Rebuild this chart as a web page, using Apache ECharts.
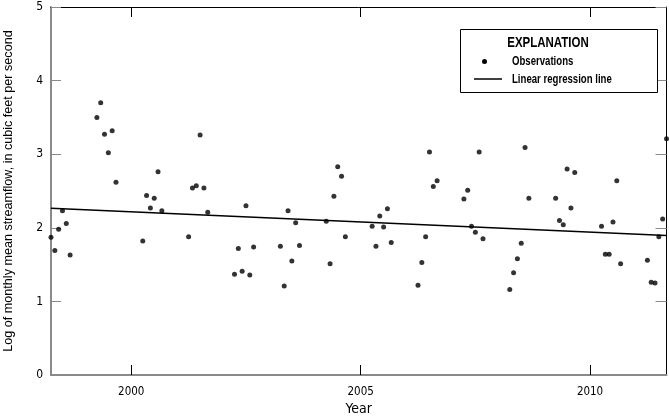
<!DOCTYPE html>
<html>
<head>
<meta charset="utf-8">
<script src="https://cdn.jsdelivr.net/npm/echarts@6/dist/echarts.min.js"></script>
<style>
html,body{margin:0;padding:0;background:#fff;}
#chart{width:669px;height:418px;}
</style>
</head>
<body>
<div id="chart"></div>
<script>
// Observation months (April–September of each year)
const obsMonths = [
  '1998-04','1998-05','1998-06','1998-07','1998-08','1998-09',
  '1999-04','1999-05','1999-06','1999-07','1999-08','1999-09',
  '2000-04','2000-05','2000-06','2000-07','2000-08','2000-09',
  '2001-04','2001-05','2001-06','2001-07','2001-08','2001-09',
  '2002-04','2002-05','2002-06','2002-07','2002-08','2002-09',
  '2003-04','2003-05','2003-06','2003-07','2003-08','2003-09',
  '2004-04','2004-05','2004-06','2004-07','2004-08','2004-09',
  '2005-04','2005-05','2005-06','2005-07','2005-08','2005-09',
  '2006-04','2006-05','2006-06','2006-07','2006-08','2006-09',
  '2007-04','2007-05','2007-06','2007-07','2007-08','2007-09',
  '2008-04','2008-05','2008-06','2008-07','2008-08','2008-09',
  '2009-04','2009-05','2009-06','2009-07','2009-08','2009-09',
  '2010-04','2010-05','2010-06','2010-07','2010-08','2010-09',
  '2011-04','2011-05','2011-06','2011-07','2011-08','2011-09'
];
// Log of monthly mean streamflow
const logFlow = [
  1.87, 1.69, 1.98, 2.23, 2.06, 1.63,
  3.50, 3.70, 3.27, 3.02, 3.32, 2.62,
  1.82, 2.44, 2.27, 2.40, 2.76, 2.23,
  1.88, 2.54, 2.57, 3.26, 2.54, 2.21,
  1.37, 1.72, 1.41, 2.30, 1.36, 1.74,
  1.75, 1.21, 2.23, 1.55, 2.07, 1.76,
  2.09, 1.51, 2.43, 2.83, 2.70, 1.88,
  2.02, 1.75, 2.16, 2.01, 2.26, 1.80,
  1.22, 1.53, 1.88, 3.03, 2.56, 2.64,
  2.39, 2.51, 2.02, 1.94, 3.03, 1.85,
  1.16, 1.39, 1.58, 1.79, 3.09, 2.40,
  2.40, 2.10, 2.04, 2.80, 2.27, 2.75,
  2.02, 1.64, 1.64, 2.08, 2.64, 1.51,
  1.56, 1.26, 1.25, 1.88, 2.12, 3.21
];
// Linear regression line end points
const regMonths = ['1998-04', '2011-09'];
const regValues = [2.267, 1.895];
// Axis ticks
const xTicks = [2000, 2005, 2010];
const yTicks = [0, 1, 2, 3, 4, 5];

function decYear(s) {
  const p = s.split('-');
  return Number(p[0]) + (Number(p[1]) - 1) / 12;
}
const obsData = obsMonths.map((m, i) => [decYear(m), logFlow[i]]);
const regData = regMonths.map((m, i) => [decYear(m), regValues[i]]);
const xMin = decYear(obsMonths[0]);
const xMax = decYear(obsMonths[obsMonths.length - 1]);

const NARROW = '"DejaVu Sans Condensed", "Liberation Sans Narrow", sans-serif';
const GRAY = '#8a8a8a';

const chart = echarts.init(document.getElementById('chart'), null, {renderer: 'canvas'});
chart.setOption({
  animation: false,
  backgroundColor: '#ffffff',
  grid: {left: 51, right: 2.5, top: 7, bottom: 43, containLabel: false, outerBoundsMode: 'none'},
  xAxis: [{
    type: 'value', position: 'bottom', min: xMin, max: xMax,
    axisLine: {show: true, onZero: false, lineStyle: {color: GRAY, width: 2}},
    axisTick: {show: true, inside: true, length: 10, customValues: xTicks, lineStyle: {color: '#000', width: 1}},
    axisLabel: {show: true, customValues: xTicks, color: '#000', fontFamily: NARROW, fontSize: 11.5, margin: 11,
      formatter: v => String(Math.round(v))},
    splitLine: {show: false},
    name: 'Year', nameLocation: 'middle', nameGap: 27, nameMoveOverlap: false,
    nameTextStyle: {color: '#000', fontFamily: NARROW, fontSize: 14}
  }, {
    type: 'value', position: 'top', min: xMin, max: xMax,
    axisLine: {show: true, onZero: false, lineStyle: {color: '#000', width: 1}},
    axisTick: {show: true, inside: true, length: 10, customValues: xTicks, lineStyle: {color: '#000', width: 1}},
    axisLabel: {show: false},
    splitLine: {show: false}
  }],
  yAxis: [{
    type: 'value', position: 'left', min: 0, max: 5, interval: 1,
    axisLine: {show: true, onZero: false, lineStyle: {color: GRAY, width: 2}},
    axisTick: {show: true, inside: true, length: 10, lineStyle: {color: GRAY, width: 1}},
    axisLabel: {show: true, color: '#000', fontFamily: NARROW, fontSize: 12, margin: 8,
      formatter: v => yTicks.indexOf(v) >= 0 ? String(v) : ''},
    splitLine: {show: false},
    name: 'Log of monthly mean streamflow, in cubic feet per second',
    nameLocation: 'middle', nameGap: 36, nameRotate: 90, nameMoveOverlap: false,
    nameTextStyle: {color: '#000', fontFamily: '"Liberation Sans", Arial, sans-serif', fontSize: 12.6}
  }, {
    type: 'value', position: 'right', min: 0, max: 5, interval: 1,
    axisLine: {show: true, onZero: false, lineStyle: {color: '#000', width: 1}},
    axisTick: {show: true, inside: true, length: 11, lineStyle: {color: GRAY, width: 1}},
    axisLabel: {show: false},
    splitLine: {show: false}
  }],
  series: [{
    name: 'Observations', type: 'scatter', xAxisIndex: 0, yAxisIndex: 0,
    data: obsData, symbol: 'circle', symbolSize: 5,
    itemStyle: {color: '#000'}, clip: true, z: 3
  }, {
    name: 'Linear regression line', type: 'line', xAxisIndex: 0, yAxisIndex: 0,
    data: regData, showSymbol: false, symbol: 'none',
    lineStyle: {color: '#000', width: 1.5}, z: 2
  }],
  graphic: [
    {type: 'rect', shape: {x: 460.5, y: 29.5, width: 197, height: 63},
      style: {fill: '#fff', stroke: '#000', lineWidth: 1}, z: 10},
    {type: 'text', x: 548, y: 43, z: 11, scaleX: 0.82,
      style: {text: 'EXPLANATION', fill: '#000', font: 'bold 14px "Liberation Sans", Arial, sans-serif', align: 'center', verticalAlign: 'middle'}},
    {type: 'circle', shape: {cx: 484.5, cy: 61.5, r: 2.5}, style: {fill: '#000'}, z: 11},
    {type: 'text', x: 512, y: 62, z: 11, scaleX: 0.8,
      style: {text: 'Observations', fill: '#000', font: 'bold 12px "Liberation Sans", Arial, sans-serif', align: 'left', verticalAlign: 'middle'}},
    {type: 'line', shape: {x1: 474, y1: 79, x2: 502, y2: 79}, style: {stroke: '#000', lineWidth: 1.5}, z: 11},
    {type: 'text', x: 512, y: 80, z: 11, scaleX: 0.8,
      style: {text: 'Linear regression line', fill: '#000', font: 'bold 12px "Liberation Sans", Arial, sans-serif', align: 'left', verticalAlign: 'middle'}}
  ]
});
</script>
</body>
</html>
